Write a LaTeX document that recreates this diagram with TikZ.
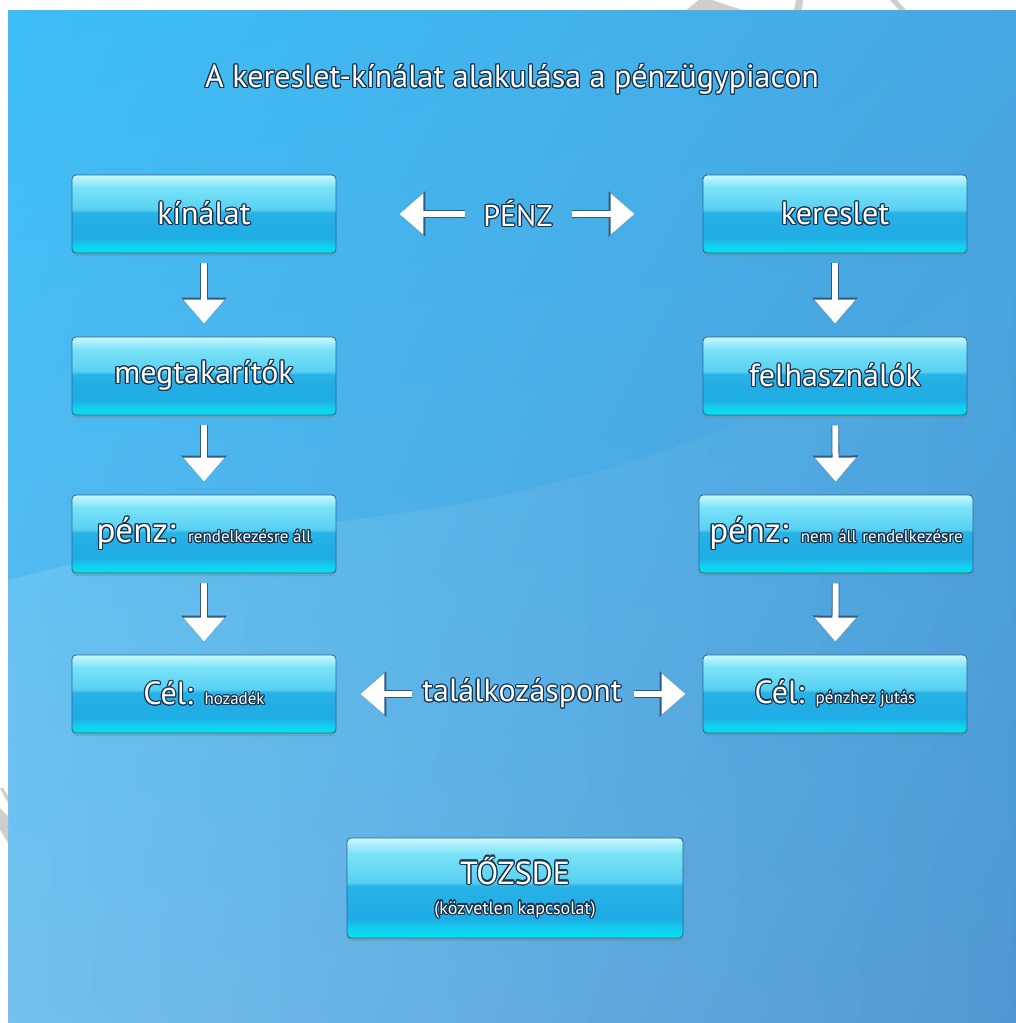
\documentclass[tikz,border=0pt]{standalone}
\usepackage{fontspec}
\setmainfont{PT Sans}
\usepackage{contour}
\usetikzlibrary{arrows.meta,positioning,shadows,shadings,fadings}

\definecolor{bgtl}{RGB}{60,190,246}
\definecolor{bgtr}{RGB}{70,168,226}
\definecolor{bgbl}{RGB}{98,184,236}
\definecolor{bgbr}{RGB}{78,150,210}
\definecolor{boxline}{RGB}{40,100,140}
\definecolor{txtline}{RGB}{22,50,80}
\definecolor{arrline}{RGB}{50,90,128}
\definecolor{wmark}{RGB}{206,206,206}
\definecolor{gbot}{RGB}{0,228,242}
\definecolor{gbot2}{RGB}{20,205,238}
\definecolor{gmid}{RGB}{30,172,228}
\definecolor{gmid2}{RGB}{40,178,230}
\definecolor{gup}{RGB}{88,208,242}
\definecolor{gup2}{RGB}{122,226,247}
\definecolor{gtop}{RGB}{202,248,253}

% the node box is mapped onto 25bp..75bp
\pgfdeclareverticalshading{glossy}{100bp}{color(0bp)=(gbot); color(25bp)=(gbot); color(30bp)=(gbot2);
  color(35bp)=(gmid); color(51bp)=(gmid2); color(53bp)=(gup); color(67bp)=(gup2); color(75bp)=(gtop); color(100bp)=(gtop)}
\tikzfading[name=swoosh, left color=transparent!10, right color=transparent!90]

\contourlength{1.2pt}
\contournumber{12}
\newcommand\shtext[1]{\contour{txtline}{#1}}
\newcommand\bigf{\fontsize{32}{36}\selectfont}
\newcommand\penzf{\fontsize{35}{38}\selectfont}
\newcommand\smallf{\fontsize{17}{20}\selectfont}

\begin{document}
\begin{tikzpicture}[x=1pt,y=-1pt,
  box/.style={rectangle,rounded corners=4pt,draw=boxline,line width=.8pt,shading=glossy,
    minimum width=264pt,minimum height=78pt,inner sep=0pt,text=white,font=\bigf,
    drop shadow={shadow xshift=0pt,shadow yshift=-3pt,opacity=.35}},
  lbl/.style={inner sep=0pt,text=white,font=\bigf},
  flow/.style={draw=white,line width=6pt,-{Triangle[length=24pt,width=40pt]},
    preaction={draw=arrline,line width=7.6pt,-{Triangle[length=26pt,width=44pt]}}}
]
\useasboundingbox (0,0) rectangle (1016,1023);
% background panel
\shade[upper left=bgtl,upper right=bgtr,lower left=bgbl,lower right=bgbr] (8,10) rectangle (1016,1023);
\fill[white,fill opacity=.13,path fading=swoosh] (8,580) .. controls (150,540) and (300,530) .. (450,505)
  .. controls (650,470) and (850,400) .. (1016,235) -- (1016,1023) -- (8,1023) -- cycle;
\fill[wmark] (686,10) -- (699,0) -- (712,0) -- (742,10) -- cycle;
\fill[wmark] (794,10) -- (796,0) -- (803,0) -- (802,10) -- cycle;
\fill[wmark] (890,0) -- (897,0) -- (906,10) -- (899,10) -- cycle;
\fill[wmark] (0,788) -- (3,788) -- (8,796) -- (8,803) -- cycle;
\fill[wmark] (0,808) -- (8,816) -- (8,843) -- (0,830) -- cycle;

\node[lbl,font=\fontsize{32}{34}\selectfont] (title) at (512,80) {\shtext{A kereslet-kínálat alakulása a pénzügypiacon}};

\node[box] (kinalat) at (204,214) {\shtext{kínálat}};
\node[box] (kereslet) at (835,214) {\shtext{kereslet}};
\node[box] (megtak) at (204,376) {\shtext{megtakarítók}};
\node[box] (felhasz) at (835,376) {\shtext{felhasználók}};
\node[box] (penzbal) at (204,534) {\shtext{\penzf pénz: \smallf rendelkezésre áll}};
\node[box,minimum width=274pt] (penzjobb) at (836,534) {\shtext{\penzf pénz: \smallf nem\,\,áll\,\,rendelkezésre}};
\node[box] (celbal) at (204,694) {\shtext{Cél: \smallf hozadék}};
\node[box] (celjobb) at (835,694) {\shtext{Cél: \smallf pénzhez jutás}};
\node[box,minimum width=336pt,minimum height=100pt,align=center] (tozsde) at (515,888)
  {\shtext{TŐZSDE}\\[-6pt]\shtext{\fontsize{18}{20}\selectfont(közvetlen kapcsolat)}};

\node[lbl,font=\fontsize{30}{32}\selectfont] (penz) at (518,214) {\shtext{PÉNZ}};
\node[lbl] (talalk) at (522,694) {\shtext{találkozáspont}};

\draw[flow,shorten <=10pt,shorten >=13pt] (kinalat) -- (megtak);
\draw[flow,shorten <=10pt,shorten >=13pt] (megtak) -- (penzbal);
\draw[flow,shorten <=10pt,shorten >=13pt] (penzbal) -- (celbal);
\draw[flow,shorten <=10pt,shorten >=13pt] (kereslet) -- (felhasz);
\draw[flow,shorten <=10pt,shorten >=13pt] (felhasz) -- (penzjobb);
\draw[flow,shorten <=10pt,shorten >=13pt] (penzjobb) -- (celjobb);
\draw[flow,shorten <=18pt,shorten >=63pt] (penz) -- (kinalat);
\draw[flow,shorten <=19pt,shorten >=68pt] (penz) -- (kereslet);
\draw[flow,shorten <=10pt,shorten >=24pt] (talalk) -- (celbal);
\draw[flow,shorten <=12pt,shorten >=17pt] (talalk) -- (celjobb);
\end{tikzpicture}
\end{document}
